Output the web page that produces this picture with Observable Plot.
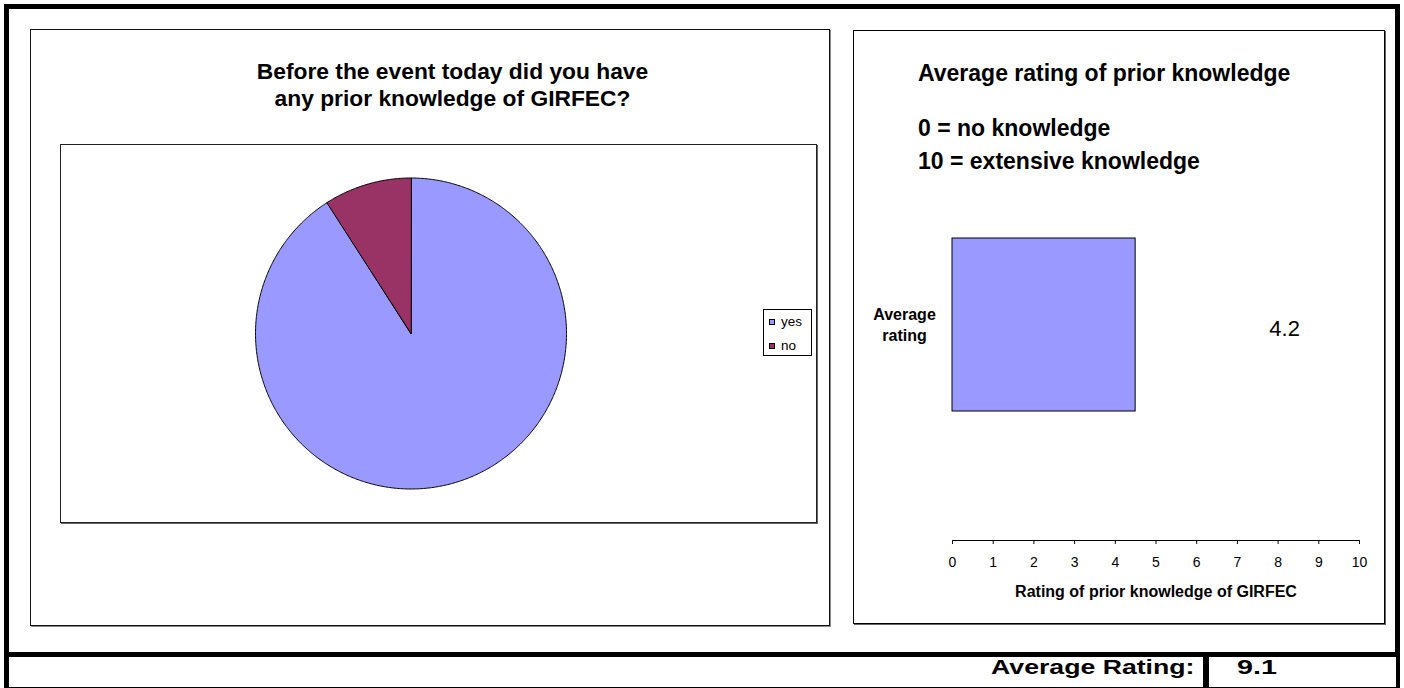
<!DOCTYPE html>
<html>
<head>
<meta charset="utf-8">
<script src="https://cdn.jsdelivr.net/npm/d3@7"></script>
<script src="https://cdn.jsdelivr.net/npm/@observablehq/plot@0.6"></script>
<style>
  html, body { margin: 0; padding: 0; background: #fff; }
  body { width: 1404px; height: 688px; position: relative; overflow: hidden;
         font-family: "Liberation Sans", Arial, sans-serif; color: #000; }
  .abs { position: absolute; box-sizing: border-box; }
  .box { pointer-events: none; background: transparent; }
  .t { position: absolute; white-space: nowrap; font-weight: bold; }
  .sw { position: absolute; width: 6px; height: 6px; box-sizing: border-box; border: 1px solid #000; }
  .lg { position: absolute; font-size: 13.5px; line-height: 16px; }
  #bar g[aria-label="x-axis tick label"] text { font-size: 14px; }
</style>
</head>
<body>
<div id="pie" class="abs" style="left:60px;top:144px;width:756px;height:378px;"></div>
<div id="bar" class="abs" style="left:853px;top:30px;width:531px;height:594px;"></div>

<!-- frames -->
<div class="abs box" style="left:4px;top:4px;width:1396px;height:653px;border:5px solid #000;"></div>
<div class="abs box" style="left:4px;top:652px;width:1396px;height:36px;border-left:5px solid #000;border-right:4px solid #000;border-bottom:1px solid #000;"></div>
<div class="abs" style="left:1203px;top:655px;width:6px;height:33px;background:#000;"></div>
<div class="abs box" style="left:30px;top:29px;width:800px;height:597px;border:1px solid #111;box-shadow:1px 1px 0 #888;"></div>
<div class="abs box" style="left:60px;top:144px;width:757px;height:379px;border:1px solid #222;box-shadow:1px 1px 0 #666;"></div>
<div class="abs box" style="left:853px;top:30px;width:532px;height:594px;border:1px solid #000;box-shadow:1px 1px 0 #666;"></div>

<div id="titles"></div>
<div id="legend" class="abs" style="left:763px;top:309px;width:49px;height:47px;border:1px solid #000;background:#fff;"></div>

<script>
// ---------- data ----------
const pieTitle = ["Before the event today did you have", "any prior knowledge of GIRFEC?"];
const pieLabels = ["yes", "no"];
const pieValues = [90.9, 9.1];
const pieColors = ["#9999FF", "#993366"];

const barTitle = ["Average rating of prior knowledge"];
const barNotes = ["0 = no knowledge", "10 = extensive knowledge"];
const barCategories = ["Average rating"];
const barValues = [4.5];
const barLabels = ["4.2"];
const xTicks = [0, 1, 2, 3, 4, 5, 6, 7, 8, 9, 10];
const xLabel = "Rating of prior knowledge of GIRFEC";

const footerLabel = "Average Rating:";
const footerValue = "9.1";

const FONT = '"Liberation Sans", Arial, sans-serif';

// ---------- pie ----------
const slices = pieLabels.map((l, i) => ({label: l, value: pieValues[i]}));
const arcs = d3.pie().sort(null).value(d => d.value)(slices);
const outline = arcs.flatMap(a => {
  const n = Math.max(4, Math.ceil((a.endAngle - a.startAngle) / (Math.PI / 360)));
  const pts = [{label: a.data.label, x: 0, y: 0}];
  for (let k = 0; k <= n; k++) {
    const t = a.startAngle + (a.endAngle - a.startAngle) * k / n;
    pts.push({label: a.data.label, x: Math.sin(t), y: Math.cos(t)});
  }
  return pts;
});

const pie = Plot.plot({
  width: 756, height: 378,
  marginLeft: 195, marginRight: 250, marginTop: 33.5, marginBottom: 33.5,
  style: {background: "transparent", fontFamily: FONT},
  x: {domain: [-1, 1], axis: null},
  y: {domain: [-1, 1], axis: null},
  color: {domain: pieLabels, range: pieColors},
  marks: [
    Plot.line(outline, {x: "x", y: "y", z: "label", fill: "label", stroke: "#000", strokeWidth: 1, curve: "linear-closed", strokeLinejoin: "round"})
  ]
});
document.getElementById("pie").append(pie);

// ---------- bar ----------
const rows = barCategories.map((c, i) => ({cat: c, value: barValues[i], label: barLabels[i]}));
const bar = Plot.plot({
  width: 531, height: 594,
  marginLeft: 99, marginRight: 25, marginTop: 79, marginBottom: 84,
  style: {background: "transparent", fontFamily: FONT, fontSize: "14px", color: "#000"},
  x: {domain: [0, 10]},
  y: {domain: barCategories, padding: 0.427, axis: null},
  marks: [
    Plot.barX(rows, {x: "value", y: "cat", fill: "#9999FF", stroke: "#000", strokeWidth: 1}),
    Plot.frame({anchor: "bottom", stroke: "#000"}),
    Plot.axisX({ticks: xTicks, tickSize: 4, tickPadding: 13, tickFormat: d => String(d), label: null, fontSize: 14}),
    Plot.text(rows, {x: "value", y: "cat", text: "label", dx: 149, dy: 4.3, fontSize: 22, textAnchor: "middle"}),
    Plot.text(rows, {y: "cat", frameAnchor: "left", dx: -48, dy: -1, text: d => d.cat.replace(" ", "\n"),
                     fontWeight: "bold", fontSize: 16, lineHeight: 1.33, textAnchor: "middle"}),
    Plot.text([xLabel], {frameAnchor: "bottom", dy: 56, fontWeight: "bold", fontSize: 16})
  ]
});
bar.querySelectorAll('g[aria-label="x-axis tick label"]').forEach(g => g.setAttribute("font-size", 14));
document.getElementById("bar").append(bar);

// ---------- titles (HTML text) ----------
const T = document.getElementById("titles");
function addText(txt, opts) {
  const d = document.createElement("div");
  d.className = "t";
  d.textContent = txt;
  Object.assign(d.style, opts);
  T.append(d);
  return d;
}
// baseline-based placement: top = baseline - L/2 - 0.3465*F
function topFor(baseline, F, L) { return (baseline - L / 2 - 0.3465 * F) + "px"; }

const ptF = 22.8, ptL = 27;
pieTitle.forEach((line, i) => addText(line, {
  left: "152px", width: "601px", textAlign: "center",
  fontSize: ptF + "px", lineHeight: ptL + "px", top: topFor(79 + i * 27, ptF, ptL)
}));

const btF = 23;
addText(barTitle[0], {left: "918px", fontSize: btF + "px", lineHeight: "28px", top: topFor(80.6, btF, 28)});
barNotes.forEach((line, i) => addText(line, {
  left: "918px", fontSize: btF + "px", lineHeight: "32px", top: topFor(136 + i * 32.5, btF, 32)
}));

const fF = 20.5, fL = 30;
addText(footerLabel, {right: (1404 - 1194) + "px", fontSize: fF + "px", lineHeight: fL + "px",
  top: topFor(674, fF, fL), transform: "scaleX(1.3)", transformOrigin: "right center"});
addText(footerValue, {left: "1237px", fontSize: fF + "px", lineHeight: fL + "px",
  top: topFor(674, fF, fL), transform: "scaleX(1.4)", transformOrigin: "left center"});

// ---------- legend ----------
const L = document.getElementById("legend");
pieLabels.forEach((lab, i) => {
  const cy = 321.7 + i * 24 - 309; // entry centre relative to legend box
  const s = document.createElement("div");
  s.className = "sw";
  s.style.left = (768 - 763) + "px";
  s.style.top = (cy - 3 - 1) + "px";
  s.style.background = pieColors[i];
  L.append(s);
  const t = document.createElement("div");
  t.className = "lg";
  t.textContent = lab;
  t.style.left = (781 - 764) + "px";
  t.style.top = (cy - 8 - 1) + "px";
  L.append(t);
});
</script>
</body>
</html>
